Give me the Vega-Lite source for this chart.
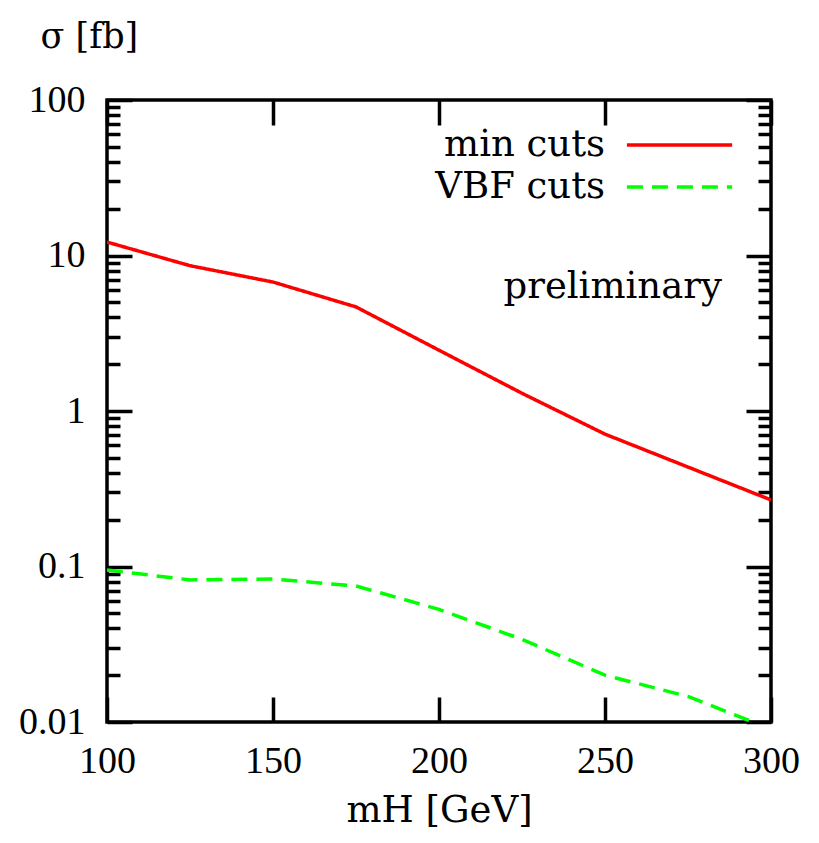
{
  "$schema": "https://vega.github.io/schema/vega-lite/v6.json",
  "width": 664,
  "height": 622,
  "autosize": "none",
  "padding": {"left": 107, "top": 100, "right": 48, "bottom": 121},
  "background": "white",
  "config": {
    "view": {"stroke": "black", "strokeWidth": 3.5},
    "axis": {
      "domain": false,
      "grid": false,
      "labelFont": "Liberation Serif",
      "titleFont": "DejaVu Serif",
      "labelFontSize": 38,
      "titleFontSize": 37,
      "titleFontWeight": "normal",
      "labelColor": "black",
      "titleColor": "black",
      "tickColor": "black",
      "tickWidth": 3.5,
      "labelOverlap": false,
      "labelFlush": false
    }
  },
  "datasets": {
    "curves": [
      {"series": "min cuts", "mH": 100, "sigma": 12.2},
      {"series": "min cuts", "mH": 125, "sigma": 8.6},
      {"series": "min cuts", "mH": 150, "sigma": 6.75},
      {"series": "min cuts", "mH": 175, "sigma": 4.67},
      {"series": "min cuts", "mH": 200, "sigma": 2.46},
      {"series": "min cuts", "mH": 225, "sigma": 1.3},
      {"series": "min cuts", "mH": 250, "sigma": 0.71},
      {"series": "min cuts", "mH": 275, "sigma": 0.436},
      {"series": "min cuts", "mH": 300, "sigma": 0.268},
      {"series": "VBF cuts", "mH": 100, "sigma": 0.095},
      {"series": "VBF cuts", "mH": 125, "sigma": 0.082},
      {"series": "VBF cuts", "mH": 150, "sigma": 0.083},
      {"series": "VBF cuts", "mH": 175, "sigma": 0.075},
      {"series": "VBF cuts", "mH": 200, "sigma": 0.053},
      {"series": "VBF cuts", "mH": 225, "sigma": 0.034},
      {"series": "VBF cuts", "mH": 250, "sigma": 0.02},
      {"series": "VBF cuts", "mH": 275, "sigma": 0.0146},
      {"series": "VBF cuts", "mH": 300, "sigma": 0.009}
    ],
    "legend": [
      {"series": "min cuts", "tx": 250, "x1": 256.6, "x2": 288.3, "y": 51.3},
      {"series": "VBF cuts", "tx": 250, "x1": 256.6, "x2": 288.3, "y": 27.6}
    ],
    "note": [
      {"label": "preliminary", "x": 285.2, "y": 6.27}
    ]
  },
  "layer": [
    {
      "data": {"name": "curves"},
      "transform": [{"filter": "datum.series === 'min cuts'"}],
      "mark": {"type": "line", "strokeWidth": 3.5, "clip": true},
      "encoding": {
        "x": {
          "field": "mH", "type": "quantitative",
          "scale": {"domain": [100, 300], "nice": false, "zero": false},
          "axis": {
            "orient": "bottom",
            "values": [100, 150, 200, 250, 300],
            "tickSize": -25,
            "labelPadding": 45,
            "title": "mH [GeV]",
            "titlePadding": 12
          }
        },
        "y": {
          "field": "sigma", "type": "quantitative",
          "scale": {"type": "log", "domain": [0.01, 100], "nice": false},
          "axis": {
            "orient": "left",
            "values": [0.01, 0.02, 0.03, 0.04, 0.05, 0.06, 0.07, 0.08, 0.09, 0.1, 0.2, 0.3, 0.4, 0.5, 0.6, 0.7, 0.8, 0.9, 1, 2, 3, 4, 5, 6, 7, 8, 9, 10, 20, 30, 40, 50, 60, 70, 80, 90, 100],
            "tickSize": {"condition": {"test": "abs(log(datum.value)/LN10 - round(log(datum.value)/LN10)) < 0.000001", "value": -25}, "value": -13},
            "labelExpr": "abs(log(datum.value)/LN10 - round(log(datum.value)/LN10)) < 0.000001 ? (datum.value >= 1 ? format(datum.value, 'd') : toString(datum.value)) : ''",
            "labelPadding": 47,
            "title": "σ [fb]",
            "titleFontSize": 35,
            "titleAngle": 0,
            "titleAlign": "left",
            "titleBaseline": "alphabetic",
            "titleX": -67,
            "titleY": -53
          }
        },
        "color": {"field": "series", "type": "nominal", "scale": {"domain": ["min cuts", "VBF cuts"], "range": ["#ff0000", "#00ff00"]}, "legend": null},
        "strokeDash": {"field": "series", "type": "nominal", "scale": {"domain": ["min cuts", "VBF cuts"], "range": [[1, 0], [16, 9]]}, "legend": null}
      }
    },
    {
      "data": {"name": "curves"},
      "transform": [{"filter": "datum.series === 'VBF cuts'"}],
      "mark": {"type": "line", "strokeWidth": 3.5, "clip": true},
      "encoding": {
        "x": {
          "field": "mH", "type": "quantitative",
          "axis": {
            "orient": "top",
            "values": [100, 150, 200, 250, 300],
            "tickSize": -25,
            "labels": false,
            "title": null
          }
        },
        "y": {
          "field": "sigma", "type": "quantitative",
          "axis": {
            "orient": "right",
            "values": [0.01, 0.02, 0.03, 0.04, 0.05, 0.06, 0.07, 0.08, 0.09, 0.1, 0.2, 0.3, 0.4, 0.5, 0.6, 0.7, 0.8, 0.9, 1, 2, 3, 4, 5, 6, 7, 8, 9, 10, 20, 30, 40, 50, 60, 70, 80, 90, 100],
            "tickSize": {"condition": {"test": "abs(log(datum.value)/LN10 - round(log(datum.value)/LN10)) < 0.000001", "value": -25}, "value": -13},
            "labels": false,
            "title": null
          }
        },
        "color": {"field": "series", "type": "nominal", "legend": null},
        "strokeDash": {"field": "series", "type": "nominal", "legend": null}
      }
    },
    {
      "data": {"name": "legend"},
      "mark": {"type": "text", "align": "right", "baseline": "middle", "color": "black", "font": "DejaVu Serif", "fontSize": 37},
      "encoding": {
        "x": {"field": "tx", "type": "quantitative", "axis": null},
        "y": {"field": "y", "type": "quantitative", "axis": null},
        "text": {"field": "series"}
      }
    },
    {
      "data": {"name": "legend"},
      "mark": {"type": "rule", "strokeWidth": 3.5},
      "encoding": {
        "x": {"field": "x1", "type": "quantitative", "axis": null},
        "x2": {"field": "x2"},
        "y": {"field": "y", "type": "quantitative", "axis": null},
        "color": {"field": "series", "type": "nominal", "legend": null},
        "strokeDash": {"field": "series", "type": "nominal", "legend": null}
      }
    },
    {
      "data": {"name": "note"},
      "mark": {"type": "text", "align": "right", "baseline": "middle", "color": "black", "font": "DejaVu Serif", "fontSize": 37},
      "encoding": {
        "x": {"field": "x", "type": "quantitative", "axis": null},
        "y": {"field": "y", "type": "quantitative", "axis": null},
        "text": {"field": "label"}
      }
    }
  ],
  "resolve": {"axis": {"x": "independent", "y": "independent"}}
}
